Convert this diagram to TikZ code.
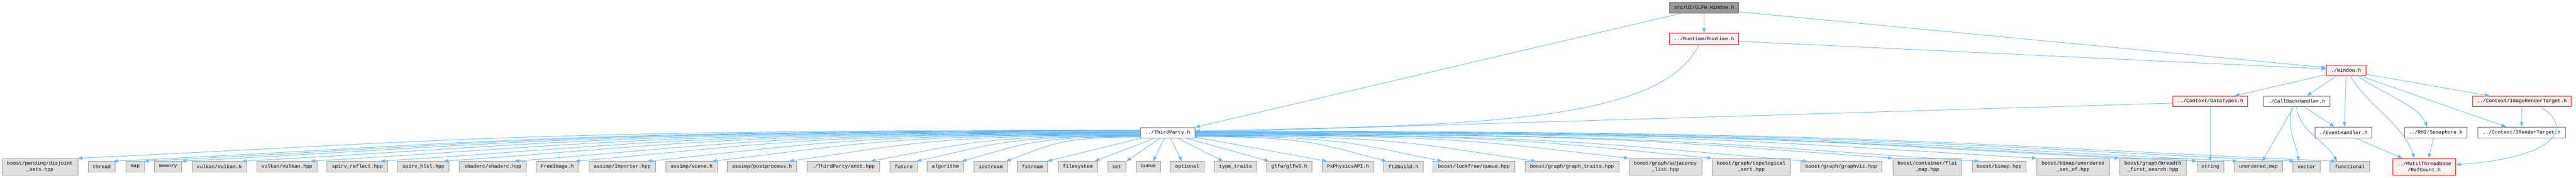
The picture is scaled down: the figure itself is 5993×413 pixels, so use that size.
\documentclass[tikz,border=0pt]{standalone}
\usepackage{fontspec}
\newfontfamily\dfont{Liberation Mono}
\usetikzlibrary{arrows.meta,calc}
\definecolor{edgec}{HTML}{63B8FF}
\definecolor{boxg}{HTML}{E0E0E0}
\definecolor{boxgb}{HTML}{999999}
\definecolor{boxr}{HTML}{FFF0F0}
\definecolor{boxwb}{HTML}{666666}
\definecolor{rootf}{HTML}{999999}
\definecolor{rootb}{HTML}{666666}
\newcommand\mkbox[7]{\node[#6, minimum width={(#3-#2)*1pt}, minimum height={(#5-#4)*1pt}] (#1) at ({(#2+#3)/2},{(#4+#5)/2}) {#7};}
\begin{document}
\begin{tikzpicture}[x=1pt,y=-1pt,
  nd/.style={draw, line width=1pt, inner sep=0pt, align=center, font=\dfont\fontsize{11.6}{14}\selectfont},
  gbox/.style={nd, fill=boxg, draw=boxgb},
  rbox/.style={nd, fill=boxr, draw=red},
  wbox/.style={nd, fill=white, draw=boxwb},
  rootbox/.style={nd, fill=rootf, draw=rootb},
  edge/.style={draw=edgec, line width=1.1pt, -{Triangle[length=11pt,width=8pt]}}]
\useasboundingbox (0,0) rectangle (5993,413);
% upper nodes
\mkbox{root}{3884}{4045}{5}{30}{rootbox}{src/UI/GLFW\_Window.h}
\mkbox{runtime}{3884}{4045}{77}{103}{rbox}{../Runtime/Runtime.h}
\mkbox{window}{5412}{5504}{151}{175}{rbox}{./Window.h}
\mkbox{datatypes}{5055}{5229}{223}{248}{rbox}{../Context/DataTypes.h}
\mkbox{callback}{5266}{5420}{223}{248}{wbox}{./CallBackHandler.h}
\mkbox{imagert}{5752}{5982}{223}{248}{rbox}{../Context/ImageRenderTarget.h}
\mkbox{tp}{2653}{2780}{296}{321}{wbox}{../ThirdParty.h}
\mkbox{eventhandler}{5386}{5518}{295}{321}{wbox}{./EventHandler.h}
\mkbox{semaphore}{5594}{5739}{295}{321}{wbox}{../RHI/Semaphore.h}
\mkbox{irt}{5765}{5968}{295}{321}{wbox}{../Context/IRenderTarget.h}
% bottom row
\mkbox{disjoint}{5}{181}{368}{407}{gbox}{boost/pending/disjoint\\\_sets.hpp}
\mkbox{thread}{205}{268}{375}{400}{gbox}{thread}
\mkbox{map}{293}{336}{375}{400}{gbox}{map}
\mkbox{memory}{359}{423}{375}{400}{gbox}{memory}
\mkbox{vulkanh}{447}{573}{375}{400}{gbox}{vulkan/vulkan.h}
\mkbox{vulkanhpp}{597}{738}{375}{400}{gbox}{vulkan/vulkan.hpp}
\mkbox{reflect}{761}{902}{375}{400}{gbox}{spirv\_reflect.hpp}
\mkbox{hlsl}{925}{1045}{375}{400}{gbox}{spirv\_hlsl.hpp}
\mkbox{shaderc}{1069}{1224}{375}{400}{gbox}{shaderc/shaderc.hpp}
\mkbox{freeimage}{1247}{1346}{375}{400}{gbox}{FreeImage.h}
\mkbox{importer}{1370}{1525}{375}{400}{gbox}{assimp/Importer.hpp}
\mkbox{scene}{1549}{1669}{375}{400}{gbox}{assimp/scene.h}
\mkbox{postprocess}{1692}{1854}{375}{400}{gbox}{assimp/postprocess.h}
\mkbox{entt}{1878}{2046}{375}{400}{gbox}{./ThirdParty/entt.hpp}
\mkbox{future}{2071}{2134}{375}{400}{gbox}{future}
\mkbox{algorithm}{2157}{2242}{375}{400}{gbox}{algorithm}
\mkbox{iostream}{2266}{2344}{375}{400}{gbox}{iostream}
\mkbox{fstream}{2367}{2437}{375}{400}{gbox}{fstream}
\mkbox{filesystem}{2462}{2553}{375}{400}{gbox}{filesystem}
\mkbox{set}{2577}{2619}{375}{400}{gbox}{set}
\mkbox{queue}{2643}{2700}{375}{400}{gbox}{queue}
\mkbox{optional}{2723}{2801}{375}{400}{gbox}{optional}
\mkbox{typetraits}{2825}{2924}{375}{400}{gbox}{type\_traits}
\mkbox{glfw}{2947}{3052}{375}{400}{gbox}{glfw/glfw3.h}
\mkbox{physx}{3076}{3196}{375}{400}{gbox}{PxPhysicsAPI.h}
\mkbox{ft2}{3219}{3311}{375}{400}{gbox}{ft2build.h}
\mkbox{lockfree}{3334}{3524}{375}{400}{gbox}{boost/lockfree/queue.hpp}
\mkbox{graphtraits}{3548}{3766}{375}{400}{gbox}{boost/graph/graph\_traits.hpp}
\mkbox{adjacency}{3790}{3959}{368}{407}{gbox}{boost/graph/adjacency\\\_list.hpp}
\mkbox{topo}{3983}{4165}{368}{407}{gbox}{boost/graph/topological\\\_sort.hpp}
\mkbox{graphviz}{4189}{4378}{375}{400}{gbox}{boost/graph/graphviz.hpp}
\mkbox{flatmap}{4404}{4564}{368}{407}{gbox}{boost/container/flat\\\_map.hpp}
\mkbox{bimap}{4589}{4713}{375}{400}{gbox}{boost/bimap.hpp}
\mkbox{unorderedset}{4739}{4907}{368}{407}{gbox}{boost/bimap/unordered\\\_set\_of.hpp}
\mkbox{bfs}{4931}{5086}{368}{407}{gbox}{boost/graph/breadth\\\_first\_search.hpp}
\mkbox{string}{5111}{5173}{375}{400}{gbox}{string}
\mkbox{umap}{5198}{5310}{375}{400}{gbox}{unordered\_map}
\mkbox{vector}{5334}{5398}{375}{400}{gbox}{vector}
\mkbox{functional}{5421}{5513}{375}{400}{gbox}{functional}
\mkbox{refcount}{5567}{5713}{368}{407}{rbox}{../MutilThreadBase\\/RefCount.h}
% edges from ThirdParty.h, left side
\foreach \tg/\ddx/\ssy in {disjoint/176/-6, thread/59/-5, map/43/-4, memory/64/-3, vulkanh/116/-2, vulkanhpp/125/-1, reflect/124/0, hlsl/107/1, shaderc/128/2, freeimage/91/3, importer/136/4, scene/108/5, postprocess/144/6, entt/148/7, future/62/8, algorithm/81/9, iostream/75/10}{
  \draw[edge] let \p1=($(tp.west)+(0,\ssy)$), \p2=($(\tg.north west)+(\ddx,0)$), \n1={\x1-\x2} in
    (\p1) .. controls ($(\p1)+(-0.6*\n1,0)$) and ($(\p2)+(0.35*\n1,-40)$) .. (\p2);
}
% straight edges from the bottom of ThirdParty.h
\foreach \tg/\ddx/\ssx in {fstream/70/0, filesystem/85/33, set/44/46, queue/40/56, optional/27/71, typetraits/21/88, glfw/6/109}{
  \draw[edge] ($(tp.south west)+(\ssx,0)$) -- ($(\tg.north west)+(\ddx,0)$);
}
\draw[edge] ($(tp.south east)+(-1,-3)$) -- ($(physx.north west)+(12,0)$);
% edges from ThirdParty.h, right side
\foreach \tg/\ddx/\ssy in {ft2/7/9, lockfree/22/8, graphtraits/26/7, adjacency/0/6, topo/0/5, graphviz/17/4, flatmap/0/3, bimap/17/2, unorderedset/0/1, bfs/0/0, string/0/-1, umap/8/-2, vector/4/-3, functional/14/-4}{
  \draw[edge] let \p1=($(tp.east)+(0,\ssy)$), \p2=($(\tg.north west)+(\ddx,0)$), \n1={\x2-\x1} in
    (\p1) .. controls ($(\p1)+(0.6*\n1,0)$) and ($(\p2)+(-0.35*\n1,-40)$) .. (\p2);
}
% upper edges
\draw[edge] (root.south) -- (runtime.north);
\draw[edge] ($(root.south west)+(30,0)$) -- (tp.north east);
\draw[edge] ($(root.south east)+(0,-3)$) -- ($(window.west)+(0,-6)$);
\draw[edge] ($(runtime.east)+(0,6)$) -- ($(window.west)+(0,-3)$);
\draw[edge] ($(runtime.south)+(-12,0)$) .. controls ($(runtime.south)+(-100,187)$) and ($(tp.east)+(620,-18)$) .. ($(tp.east)+(0,-4)$);
\draw[edge] ($(datatypes.west)+(0,4)$) -- ($(tp.east)+(0,-1)$);
\draw[edge] (datatypes.south) -- (string.north);
\draw[edge] ($(window.south west)+(0,-2)$) -- ($(datatypes.north east)+(-31,0)$);
\draw[edge] ($(window.south)+(-21,0)$) -- ($(callback.north)+(24,0)$);
\draw[edge] (window.south) -- ($(eventhandler.north)+(2,0)$);
\draw[edge] ($(window.south)+(9,0)$) .. controls ($(window.south)+(50,70)$) and ($(refcount.north)+(-50,-80)$) .. ($(refcount.north)+(-23,0)$);
\draw[edge] ($(window.south)+(26,0)$) .. controls ($(window.south)+(80,40)$) and ($(semaphore.north)+(-40,-50)$) .. ($(semaphore.north)+(-20,0)$);
\draw[edge] ($(window.south east)+(-16,0)$) -- ($(irt.north)+(-36,0)$);
\draw[edge] ($(window.south east)+(0,-3)$) -- ($(imagert.north)+(-75,0)$);
\draw[edge] ($(callback.south)+(-7,0)$) -- ($(umap.north)+(9,0)$);
\draw[edge] ($(callback.south)+(-11,0)$) .. controls ($(callback.south)+(-22,60)$) and ($(vector.north)+(-25,-45)$) .. ($(vector.north)+(-18,0)$);
\draw[edge] ($(callback.south)+(-1,0)$) .. controls ($(callback.south)+(10,60)$) and ($(functional.north)+(-60,-50)$) .. ($(functional.north)+(-30,0)$);
\draw[edge] ($(callback.south)+(18,0)$) -- ($(eventhandler.north)+(-21,0)$);
\draw[edge] ($(eventhandler.south)+(29,0)$) -- ($(refcount.north)+(-51,0)$);
\draw[edge] ($(semaphore.south)+(-5,0)$) -- ($(refcount.north)+(10,0)$);
\draw[edge] (imagert.south) -- (irt.north);
\draw[edge] ($(imagert.south)+(43,0)$) .. controls ($(imagert.south)+(118,42)$) and ($(refcount.east)+(245,-22)$) .. ($(refcount.east)+(0,-5)$);
\end{tikzpicture}
\end{document}
